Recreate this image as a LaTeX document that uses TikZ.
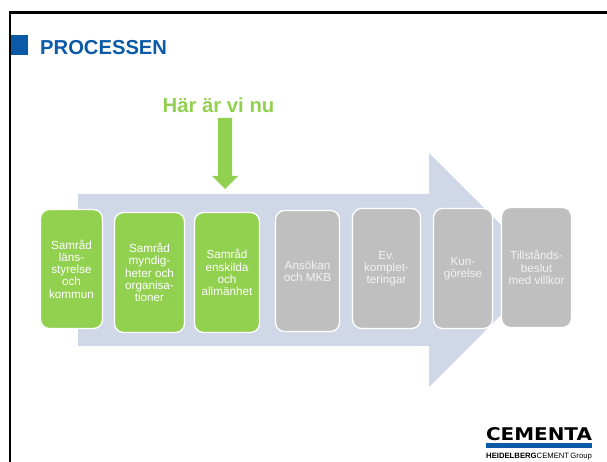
\documentclass[tikz,border=0pt]{standalone}
\usepackage{fontspec}
\setmainfont{Liberation Sans}
\newfontfamily\logofont{DejaVu Sans}
\usepackage{xcolor}
\usetikzlibrary{positioning}
\definecolor{cmblue}{RGB}{10,90,168}
\definecolor{cmgreen}{RGB}{146,208,80}
\definecolor{cmgrey}{RGB}{191,191,191}
\definecolor{cmarrow}{RGB}{208,216,232}
\tikzstyle{stepbox} = [rectangle, rounded corners=9pt, draw=white, line width=1.3pt, inner sep=0pt, text=white, align=center, font=\fontsize{11.7}{12.3}\selectfont]
\tikzstyle{donebox} = [stepbox, fill=cmgreen]
\tikzstyle{todobox} = [stepbox, fill=cmgrey, text=white!80!cmgrey]
\begin{document}
\begin{tikzpicture}[x=1pt, y=-1pt]
\useasboundingbox (0,0) rectangle (607,462);
% Frame
\draw[line width=2.6pt] (607,12.4) -- (9.8,12.4) -- (9.8,462);
\fill[cmblue] (11,35) rectangle (28,55);
\node[anchor=west, inner sep=0pt, text=cmblue, font=\fontsize{20.2}{24}\selectfont\bfseries] (title) at (40,48) {PROCESSEN};

% Here we are
\node[inner sep=0pt, text=cmgreen, font=\fontsize{20.3}{24}\selectfont\bfseries] (here) at (218.5,105) {Här är vi nu};
\fill[cmgreen] (218,118) -- (232,118) -- (232,176) -- (238,176) -- (225,189) -- (212,176) -- (218,176) -- cycle;

% Process arrow
\fill[cmarrow] (78,194) -- (429,194) -- (429,153) -- (546,270) -- (429,387) -- (429,346) -- (78,346) -- cycle;

% Steps
\node[donebox, minimum width=62pt, minimum height=119pt] (s1) at (71.5,269) {Samråd\\läns-\\styrelse\\och\\kommun};
\node[donebox, minimum width=70pt, minimum height=120pt] (s2) at (149.5,272.5) {Samråd\\myndig-\\heter och\\organisa-\\tioner};
\node[donebox, minimum width=65pt, minimum height=120pt] (s3) at (227,272.5) {Samråd\\enskilda\\och\\allmänhet};
\node[todobox, minimum width=64pt, minimum height=121pt] (s4) at (307.5,271) {Ansökan\\och MKB};
\node[todobox, minimum width=68pt, minimum height=120pt] (s5) at (386.5,268.5) {Ev.\\komplet-\\teringar};
\node[todobox, minimum width=59pt, minimum height=120pt] (s6) at (463,268.5) {Kun-\\görelse};
\node[todobox, minimum width=70pt, minimum height=120pt] (s7) at (536.5,267.5) {Tillstånds-\\beslut\\med villkor};

% Logo
\node[inner sep=0pt] (cementa) at (539,434.5) {\resizebox{106pt}{13pt}{\logofont\bfseries CEMENTA}};
\fill[cmblue] (486,443) rectangle (592,448);
\node[anchor=west, inner sep=0pt, font=\fontsize{7.7}{9}\selectfont] (heidelberg) at (486,457) {\textbf{HEIDELBERG}CEMENT\,Group};
\end{tikzpicture}
\end{document}
